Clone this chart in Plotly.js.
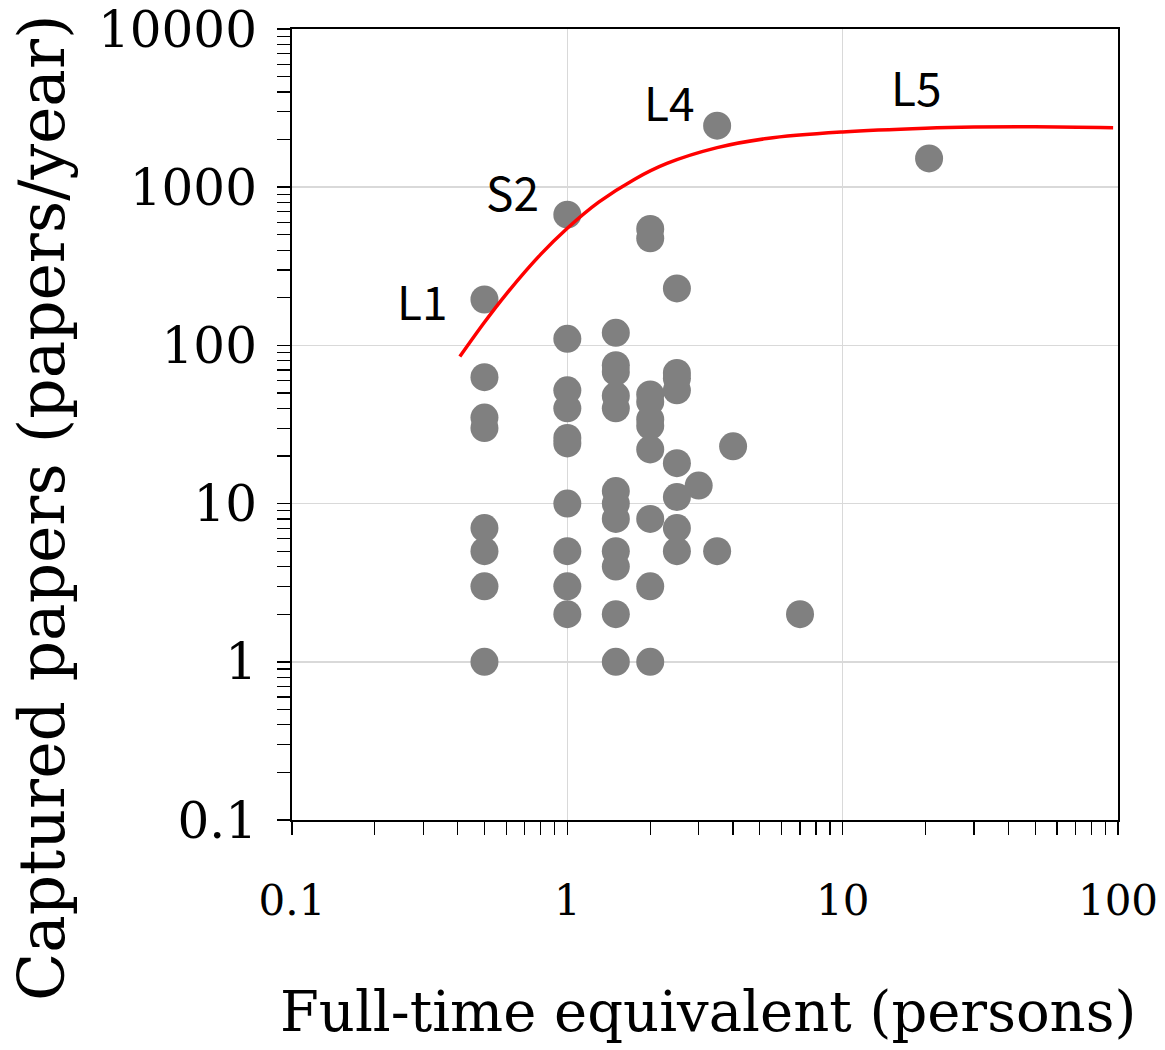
<!DOCTYPE html>
<html>
<head>
<meta charset="utf-8">
<script src="https://cdn.plot.ly/plotly-3.0.1.min.js"></script>
<style>
html,body{margin:0;padding:0;background:#fff;}
#chart{width:1165px;height:1050px;}
</style>
</head>
<body>
<div id="chart"></div>
<script>
// Scatter data: full-time equivalent (persons) vs captured papers (papers/year)
const fte = [
  0.5, 0.5, 0.5, 0.5, 0.5, 0.5, 0.5, 0.5,
  1, 1, 1, 1, 1, 1, 1, 1, 1, 1,
  1.5, 1.5, 1.5, 1.5, 1.5, 1.5, 1.5, 1.5, 1.5, 1.5, 1.5, 1.5,
  2, 2, 2, 2, 2, 2, 2, 2, 2, 2,
  2.5, 2.5, 2.5, 2.5, 2.5, 2.5, 2.5, 2.5,
  3, 3.5, 3.5, 4, 7, 20.6
];
const papers = [
  195, 63, 35, 30, 7, 5, 3, 1,
  670, 110, 52, 40, 26, 24, 10, 5, 3, 2,
  120, 75, 68, 48, 40, 12, 10, 8, 5, 4, 2, 1,
  545, 475, 49, 44, 34, 31, 22, 8, 3, 1,
  229, 67, 62, 52, 18, 11, 7, 5,
  13, 2450, 5, 23, 2, 1520
];

// Fitted curve (red line)
const fitX = [0.407, 0.5, 0.6, 0.8, 1.0, 1.3, 1.75, 2.3, 3.5, 5.3, 10, 20, 30, 50, 96];
const fitY = [85, 140, 211, 376, 550, 804, 1120, 1413, 1778, 2032, 2234, 2360, 2399, 2410, 2377];

// Point labels
const labelText = ["L1", "S2", "L4", "L5"];
const labelIndex = [0, 8, 49, 53];
const labelShiftX = [-62, -55, -48, -13];
const labelShiftY = [0, 24, 25, 72];

const xTickVals = [0.1, 1, 10, 100];
const xTickText = ["0.1", "1", "10", "100"];
const yTickVals = [0.1, 1, 10, 100, 1000, 10000];
const yTickText = ["0.1", "1", "10", "100", "1000", "10000"];

const serif = "DejaVu Serif";
const sans = "Noto Sans CJK JP";

const traces = [
  {
    x: fte, y: papers, type: "scatter", mode: "markers",
    marker: {color: "#808080", size: 28, line: {width: 0}},
    hoverinfo: "x+y", showlegend: false
  },
  {
    x: fitX, y: fitY, type: "scatter", mode: "lines",
    line: {color: "#ff0000", width: 3.5, shape: "spline", smoothing: 1},
    hoverinfo: "skip", showlegend: false
  }
];

const annotations = labelText.map((t, i) => ({
  x: Math.log10(fte[labelIndex[i]]),
  y: Math.log10(papers[labelIndex[i]]),
  xref: "x", yref: "y",
  text: t, showarrow: false,
  xanchor: "center", yanchor: "middle",
  xshift: labelShiftX[i], yshift: labelShiftY[i],
  font: {family: sans, size: 46, color: "#000"}
}));

annotations.push({
  xref: "paper", yref: "paper", x: 0.504, y: -0.2427,
  xanchor: "center", yanchor: "middle", showarrow: false,
  text: "Full-time equivalent (persons)",
  font: {family: serif, size: 56, color: "#000"}
});
annotations.push({
  xref: "paper", yref: "paper", x: -0.3027, y: 0.3957,
  xanchor: "center", yanchor: "middle", showarrow: false, textangle: -90,
  text: "Captured papers (papers/year)",
  font: {family: serif, size: 63, color: "#000"}
});

const axisCommon = {
  type: "log",
  showline: true, linecolor: "#000", linewidth: 2, mirror: true,
  showgrid: true, gridcolor: "#d9d9d9", gridwidth: 1.5,
  zeroline: false,
  ticks: "outside", ticklen: 13, tickwidth: 1.5, tickcolor: "#000",
  minor: {ticks: "outside", ticklen: 13, tickwidth: 1.2, tickcolor: "#000", dtick: "D1", showgrid: false},
  tickmode: "array"
};

const layout = {
  width: 1165, height: 1050,
  margin: {l: 292, r: 47, t: 29, b: 230},
  paper_bgcolor: "#fff", plot_bgcolor: "#fff",
  showlegend: false,
  xaxis: Object.assign({}, axisCommon, {
    range: [-1, 2], tickvals: xTickVals, ticktext: xTickText,
    tickfont: {family: serif, size: 42, color: "#000"},
    ticklabelstandoff: 30
  }),
  yaxis: Object.assign({}, axisCommon, {
    range: [-1, 4], tickvals: yTickVals, ticktext: yTickText,
    tickfont: {family: serif, size: 50, color: "#000"},
    ticklabelstandoff: 10
  }),
  annotations: annotations
};

Plotly.newPlot("chart", traces, layout, {displayModeBar: false, staticPlot: true});
</script>
</body>
</html>
